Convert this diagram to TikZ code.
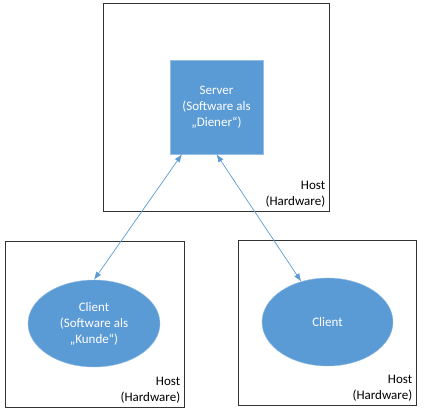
\documentclass[tikz,border=0pt]{standalone}
\usepackage{fontspec}
\setmainfont{Carlito}
\usetikzlibrary{arrows.meta,positioning,shapes.geometric,calc}
\definecolor{msblue}{RGB}{91,155,213}
\definecolor{msedge}{RGB}{150,190,230}
\tikzset{>={Latex[length=8pt,width=6pt]},
         host/.style={draw=black!80, line width=0.8pt, minimum width=#1},
         hostlabel/.style={anchor=south east, align=right, inner sep=4pt,
           font=\fontsize{13}{16}\selectfont},
         sw/.style={fill=msblue, draw=msedge, text=white, align=center,
           font=\fontsize{13}{16}\selectfont},
         link/.style={<->, draw=msblue, line width=0.7pt}}

\begin{document}
\begin{tikzpicture}[x=1pt,y=-1pt]
  \useasboundingbox (0,0) rectangle (424,415);
  % Hosts
  \node (hostT) [host=226pt, minimum height=208pt] at (216,107) {};
  \node (hostL) [host=179pt, minimum height=166pt] at (94.5,324) {};
  \node (hostR) [host=178pt, minimum height=165pt] at (327,322.5) {};
  \foreach \h in {hostT,hostL,hostR}
    \node [hostlabel] at (\h.south east) {Host\\(Hardware)};
  % Software
  \node (server) [sw, rectangle, minimum width=93pt, minimum height=94pt]
    at (216.5,107) {Server\\(Software als\\„Diener“)};
  \node (clientL) [sw, ellipse, minimum width=132pt, minimum height=87pt,
    inner sep=0pt] at (94,323.5) {Client\\(Software als\\„Kunde“)};
  \node (clientR) [sw, ellipse, minimum width=131pt, minimum height=88pt,
    inner sep=0pt] at (327.5,322) {Client};
  % Links
  \draw[link] ($(server.south west)!0.13!(server.south east)$) -- (clientL.north);
  \draw[link] (server.south) -- (clientR.123);
\end{tikzpicture}
\end{document}
